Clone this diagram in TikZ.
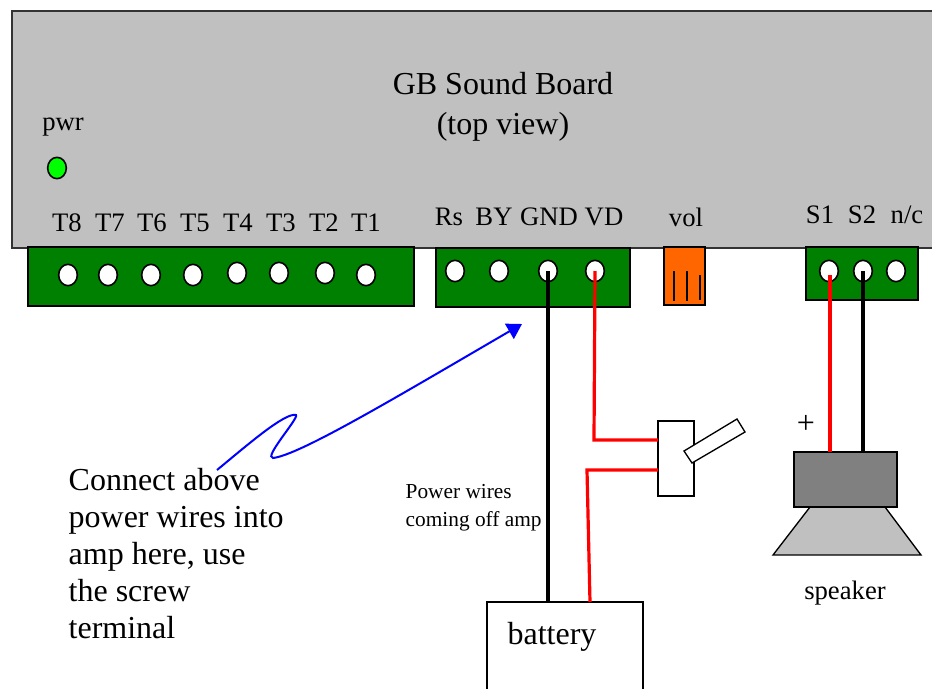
\documentclass[tikz,border=0pt]{standalone}
\usepackage{fontspec}
\setmainfont{Liberation Serif}
\usepackage{xcolor}
\usetikzlibrary{fit,shapes.geometric,arrows.meta}
\definecolor{boardgray}{HTML}{C0C0C0}
\definecolor{stripgreen}{HTML}{008000}
\definecolor{ledgreen}{HTML}{00FF00}
\definecolor{volorange}{HTML}{FF6600}
\definecolor{magnetgray}{HTML}{808080}

\begin{document}
\begin{tikzpicture}[line width=1pt,x=0.75pt,y=-0.75pt]
    % `board' is the big gray box, `strip' the green terminal blocks.
    % `screw' is used for the white terminal holes.
    % `wire' lines are given a color and a width where they are drawn.
    \tikzstyle{board} = [draw=black!80,fill=boardgray,inner sep=0pt]
    \tikzstyle{strip} = [draw=black,fill=stripgreen,inner sep=0pt]
    \tikzstyle{screw} = [draw=black,fill=white,shape=ellipse,minimum width=14pt,minimum height=16pt,inner sep=0pt,line width=1.2pt]
    \tikzstyle{pin} = [anchor=base,font=\fontsize{20}{24}\selectfont,inner sep=0pt]
    \tikzstyle{big} = [font=\fontsize{24}{29.4}\selectfont,inner sep=0pt]
    \tikzstyle{wire} = [line cap=butt,line join=miter]
    \useasboundingbox (0,0) rectangle (932,689);
    %
    % Board with its texts.
    \node[board,fit={(12,11) (945,248)}] (sndboard) {};
    \node[big,anchor=base,align=center] (title) at (503,134) {GB Sound Board\\(top view)};
    \node[pin] (pwr) at (63,130) {pwr};
    \node[screw,fill=ledgreen] (led) at (57,168) {};
    % Pin names.
    \node[pin] (nameT8) at (67,231) {T8};
    \node[pin] (nameT7) at (110,231) {T7};
    \node[pin] (nameT6) at (152,231) {T6};
    \node[pin] (nameT5) at (195,231) {T5};
    \node[pin] (nameT4) at (238,231) {T4};
    \node[pin] (nameT3) at (281,231) {T3};
    \node[pin] (nameT2) at (324,231) {T2};
    \node[pin] (nameT1) at (366,231) {T1};
    \node[pin] (nameRs) at (449,225) {Rs};
    \node[pin] (nameBY) at (494,225) {BY};
    \node[pin] (nameGND) at (549,225) {GND};
    \node[pin] (nameVD) at (604,225) {VD};
    \node[pin] (namevol) at (686,226) {vol};
    \node[pin] (nameS1) at (820,223) {S1};
    \node[pin] (nameS2) at (862,223) {S2};
    \node[pin] (namenc) at (907,223) {n/c};
    %
    % Terminal blocks.
    \node[strip,fit={(28,247) (414,306)}] (stripT) {};
    \node[strip,fit={(436,248) (630,307)}] (stripP) {};
    \node[strip,fit={(806,247) (918,300)}] (stripS) {};
    \node[screw] (T8) at (68,275) {};
    \node[screw] (T7) at (108,275) {};
    \node[screw] (T6) at (151,275) {};
    \node[screw] (T5) at (193,275) {};
    \node[screw] (T4) at (237,273) {};
    \node[screw] (T3) at (279,273) {};
    \node[screw] (T2) at (325,273) {};
    \node[screw] (T1) at (366,275) {};
    \node[screw] (Rs) at (455,271) {};
    \node[screw] (BY) at (499,271) {};
    \node[screw] (GND) at (548,271) {};
    \node[screw] (VD) at (595,271) {};
    \node[screw] (S1) at (829,271) {};
    \node[screw] (S2) at (863,271) {};
    \node[screw] (nc) at (896,271) {};
    %
    % Volume connector.
    \node[strip,fill=volorange,fit={(664,247) (705,305)}] (vol) {};
    \coordinate (vola) at (674,271);
    \coordinate (volb) at (687,271);
    \coordinate (volc) at (700,275);
    \draw (vola) -- (674,301) (volb) -- (687,301) (volc) -- (700,300);
    %
    % Switch, speaker and battery.
    \node[draw=black,fill=white,inner sep=0pt,fit={(658,421) (694,496)}] (switch) {};
    \draw[fill=white] (684,451) -- (737,419) -- (745,432) -- (692,463) -- cycle;
    \draw[fill=boardgray] (810,507) -- (885,507) -- (921,555) -- (773,555) -- cycle;
    \node[draw=black,fill=magnetgray,inner sep=0pt,fit={(794,452) (897,507)}] (magnet) {};
    \node[draw=black,fill=white,inner sep=0pt,fit={(487,602) (643,700)}] (battery) {};
    \node[big,anchor=base] (batterytext) at (552,644) {battery};
    \node[pin] (spktext) at (845,599) {speaker};
    \node[pin,font=\fontsize{24}{24}\selectfont] (plus) at (806,433) {+};
    %
    % Lower left texts.
    \node[big,anchor=north west,align=left,font=\fontsize{24}{27.75}\selectfont] (note) at (68,468) {Connect above\\power wires into\\amp here, use\\the screw\\terminal};
    \node[anchor=north west,align=left,inner sep=0pt,font=\fontsize{16}{20.5}\selectfont] (powertext) at (405,484) {Power wires\\coming off amp};
    %
    % Wires.
    \coordinate (batneg) at (548,602);
    \coordinate (batpos) at (590,602);
    \coordinate (redtop) at (587,470);
    \coordinate (redbend) at (594,440);
    \coordinate (swtop) at (658,440);
    \coordinate (swbot) at (658,470);
    \coordinate (spkpos) at (830,452);
    \coordinate (spkneg) at (863,452);
    \coordinate (S1end) at (830,275);
    \draw[wire,line width=3.4pt] (GND.center) -- (batneg);
    \draw[wire,red,line width=2.4pt] (VD.center) -- (redbend) -- (swtop);
    \draw[wire,red,line width=2.4pt] (swbot) -- (redtop) -- (batpos);
    \draw[wire,red,line width=3pt] (S1end) -- (spkpos);
    \draw[wire,line width=3.4pt] (S2.center) -- (spkneg);
    %
    % Arrow from the text to the power terminals.
    \coordinate (arrowstart) at (217,470);
    \coordinate (arrowend) at (522,324);
    \draw[blue,line width=1.5pt,-{Triangle[length=11pt,width=13pt]}] (arrowstart) .. controls (245,447) and (285,412) .. (296,415) .. controls (299,418) and (263,458) .. (273,458) .. controls (300,455) and (400,395) .. (arrowend);
\end{tikzpicture}
\end{document}
